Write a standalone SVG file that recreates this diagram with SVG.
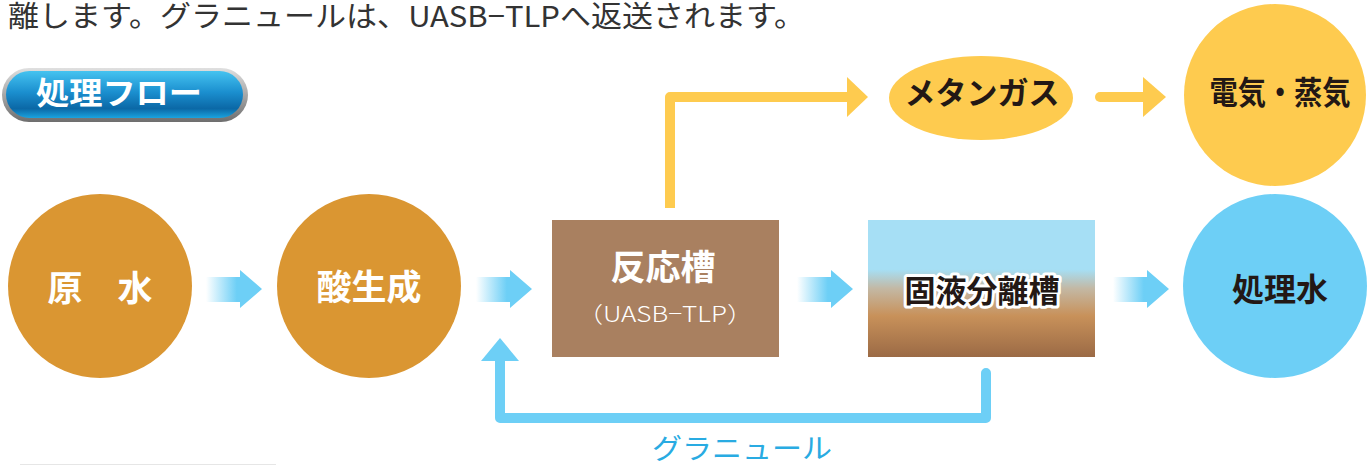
<svg xmlns="http://www.w3.org/2000/svg" width="1372" height="465" viewBox="0 0 1372 465">
<defs>
<linearGradient id="gBlueArrow" x1="0" y1="0" x2="1" y2="0">
<stop offset="0" stop-color="#ffffff"/>
<stop offset="0.55" stop-color="#6dcff6"/>
<stop offset="1" stop-color="#6dcff6"/>
</linearGradient>
<linearGradient id="gTank" x1="0" y1="0" x2="0" y2="1">
<stop offset="0" stop-color="#a6dff5"/>
<stop offset="0.36" stop-color="#a6dff5"/>
<stop offset="0.5" stop-color="#c3b8a4"/>
<stop offset="0.7" stop-color="#c8915a"/>
<stop offset="1" stop-color="#9b6a45"/>
</linearGradient>
<linearGradient id="gPillRim" x1="0" y1="0" x2="0" y2="1">
<stop offset="0" stop-color="#e0e0e0"/>
<stop offset="1" stop-color="#6e6e6e"/>
</linearGradient>
<linearGradient id="gPill" x1="0" y1="0" x2="0" y2="1">
<stop offset="0" stop-color="#45c3f0"/>
<stop offset="0.45" stop-color="#1b8fcf"/>
<stop offset="0.8" stop-color="#0b68a6"/>
<stop offset="1" stop-color="#1aa3df"/>
</linearGradient>
</defs>
<style>
.jp{font-family:"Noto Sans CJK JP","Noto Sans CJK SC",sans-serif;}
.b{font-weight:700;}
.w{fill:#ffffff;}
.k{fill:#231815;}
.orange{fill:#da9632;}
.yellow{fill:#fecb4f;}
.blue{fill:#6dcff6;}
.flow{fill:url(#gBlueArrow);}
</style>
<rect width="1372" height="465" fill="#ffffff"/>
<text class="jp" x="8" y="27" font-size="29" fill="#333333" textLength="797" lengthAdjust="spacingAndGlyphs">離します。グラニュールは、UASB−TLPへ返送されます。</text>
<g id="title">
<rect x="2" y="68" width="246" height="54" rx="27" fill="url(#gPillRim)"/>
<rect x="6" y="71" width="237" height="47" rx="23.5" fill="url(#gPill)"/>
<text class="jp b w" x="119" y="104" font-size="31" text-anchor="middle" textLength="166" lengthAdjust="spacingAndGlyphs">処理フロー</text>
</g>
<g id="connectors">
<polygon class="flow" points="206,277 240,277 240,270 262,289 240,308 240,302 206,302"/>
<polygon class="flow" points="476,277 510,277 510,270 532,289 510,308 510,302 476,302"/>
<polygon class="flow" points="797,277 831,277 831,270 853,289 831,308 831,302 797,302"/>
<polygon class="flow" points="1113,277 1147,277 1147,270 1169,289 1147,308 1147,302 1113,302"/>
<path d="M670,208 V97 H849" fill="none" stroke="#fecb4f" stroke-width="10" stroke-linejoin="round"/>
<polygon class="yellow" points="847,77 868,97 847,117"/>
<path d="M1100,97 H1145" fill="none" stroke="#fecb4f" stroke-width="10" stroke-linecap="round"/>
<polygon class="yellow" points="1143,77 1166,97 1143,117"/>
<path d="M986,373 V418 H500 V359" fill="none" stroke="#6dcff6" stroke-width="10" stroke-linecap="round" stroke-linejoin="round"/>
<polygon class="blue" points="481,361 519,361 500,338"/>
<text class="jp" x="742" y="459" font-size="28" fill="#29abe2" text-anchor="middle" textLength="180" lengthAdjust="spacingAndGlyphs">グラニュール</text>
</g>
<g id="raw-water">
<circle class="orange" cx="100" cy="286" r="92"/>
<text class="jp b w" x="100" y="301" font-size="35" text-anchor="middle">原　水</text>
</g>
<g id="acid">
<circle class="orange" cx="369" cy="286" r="92"/>
<text class="jp b w" x="369" y="300" font-size="35" text-anchor="middle">酸生成</text>
</g>
<g id="reactor">
<rect x="552" y="220" width="227" height="137" fill="#a98060"/>
<text class="jp b w" x="663" y="280" font-size="35" text-anchor="middle">反応槽</text>
<text class="jp w" x="665" y="322" font-size="22" font-weight="300" text-anchor="middle" textLength="176" lengthAdjust="spacingAndGlyphs">（UASB−TLP）</text>
</g>
<g id="separator">
<rect x="868" y="220" width="227" height="137" fill="url(#gTank)"/>
<text class="jp b k" x="982" y="302" font-size="31" text-anchor="middle" stroke="#ffffff" stroke-width="6" stroke-linejoin="round" paint-order="stroke">固液分離槽</text>
</g>
<g id="methane">
<ellipse class="yellow" cx="981" cy="98" rx="92" ry="42"/>
<text class="jp b k" x="982" y="104" font-size="31" text-anchor="middle">メタンガス</text>
</g>
<g id="power">
<circle class="yellow" cx="1275" cy="95" r="91"/>
<text class="jp b k" x="1280" y="104" font-size="32" text-anchor="middle" textLength="141" lengthAdjust="spacingAndGlyphs">電気・蒸気</text>
</g>
<g id="treated">
<circle class="blue" cx="1275" cy="286" r="92"/>
<text class="jp b k" x="1280" y="301" font-size="32" text-anchor="middle">処理水</text>
</g>
<line x1="20" y1="464.5" x2="276" y2="464.5" stroke="#e6e6e6" stroke-width="1"/>
</svg>
